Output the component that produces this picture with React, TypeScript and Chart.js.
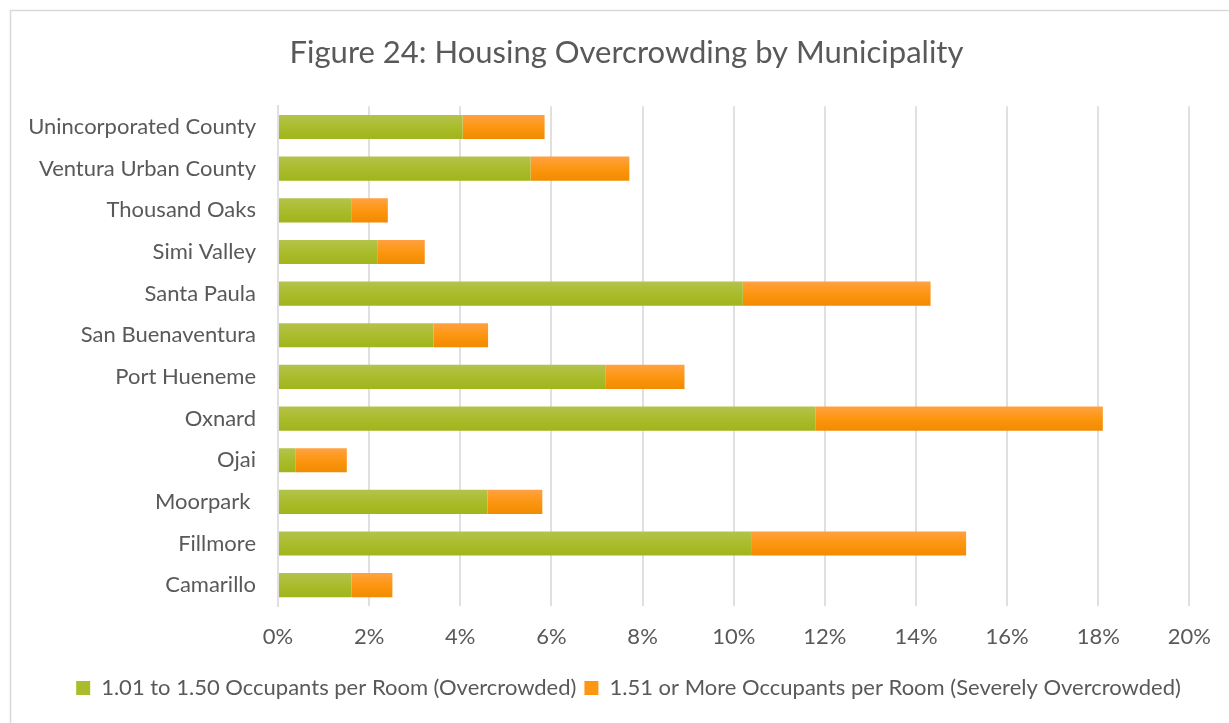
import React, { useEffect, useRef } from "react";
import { Chart, registerables } from "chart.js";

Chart.register(...registerables);

const categories = [
  "Unincorporated County",
  "Ventura Urban County",
  "Thousand Oaks",
  "Simi Valley",
  "Santa Paula",
  "San Buenaventura",
  "Port Hueneme",
  "Oxnard",
  "Ojai",
  "Moorpark ",
  "Fillmore",
  "Camarillo",
];

const overcrowded = [4.05, 5.54, 1.62, 2.19, 10.2, 3.41, 7.18, 11.8, 0.39, 4.6, 10.4, 1.61];
const severe = [1.8, 2.17, 0.79, 1.03, 4.12, 1.2, 1.74, 6.3, 1.12, 1.2, 4.7, 0.9];

const xTicks = [0, 2, 4, 6, 8, 10, 12, 14, 16, 18, 20];

const seriesNames = [
  "1.01 to 1.50 Occupants per Room (Overcrowded)",
  "1.51 or More Occupants per Room (Severely Overcrowded)",
];

const FONT = "Lato";
const TEXT = "#595959";

function barGradient(top: string, bottom: string, solid: string) {
  return (c: any) => {
    const chart = c.chart;
    const y = chart.scales?.y;
    if (!y || c.dataIndex === undefined || !chart.chartArea) return solid;
    const center = y.getPixelForValue(c.dataIndex);
    const half = 13;
    const g = chart.ctx.createLinearGradient(0, center - half, 0, center + half);
    g.addColorStop(0, top);
    g.addColorStop(0.5, solid);
    g.addColorStop(1, bottom);
    return g;
  };
}

const borderPlugin = {
  id: "outerBorder",
  beforeDraw(chart: any) {
    const ctx = chart.ctx;
    ctx.save();
    ctx.fillStyle = "#ffffff";
    ctx.fillRect(0, 0, chart.width, chart.height);
    ctx.strokeStyle = "#d9d9d9";
    ctx.lineWidth = 1.5;
    ctx.strokeRect(10.5, 10.5, chart.width + 20, chart.height + 20);
    ctx.restore();
  },
};

// Centre the title and legend on the full frame rather than the padded box.
const shiftPlugin = {
  id: "shiftBlocks",
  afterLayout(chart: any) {
    const t = chart.titleBlock;
    if (t) {
      t.left += 26;
      t.right += 26;
    }
    const l = chart.legend;
    if (l) {
      l.left += 28;
      l.right += 28;
    }
  },
};

export default function App() {
  const ref = useRef<HTMLCanvasElement>(null);

  useEffect(() => {
    document.body.style.margin = "0";
    const chart = new Chart(ref.current!, {
      type: "bar",
      data: {
        labels: categories,
        datasets: [
          {
            label: seriesNames[0],
            data: overcrowded,
            backgroundColor: barGradient("#b5c34e", "#a0b41a", "#aabc2c"),
            borderWidth: 0,
            categoryPercentage: 1,
            barPercentage: 0.58,
          },
          {
            label: seriesNames[1],
            data: severe,
            backgroundColor: barGradient("#ffa245", "#f08a00", "#fd9610"),
            borderWidth: 0,
            categoryPercentage: 1,
            barPercentage: 0.58,
          },
        ],
      },
      options: {
        indexAxis: "y",
        responsive: false,
        animation: false,
        layout: { padding: { left: 10, right: 38, top: 18, bottom: 14 } },
        plugins: {
          title: {
            display: true,
            text: "Figure 24: Housing Overcrowding by Municipality",
            color: TEXT,
            font: { family: FONT, size: 31, weight: "normal" },
            padding: { top: 16, bottom: 35 },
          },
          legend: {
            position: "bottom",
            labels: {
              color: TEXT,
              font: { family: FONT, size: 22 },
              boxWidth: 14,
              boxHeight: 14,
              padding: 8,
              generateLabels: () =>
                seriesNames.map((n, i) => ({
                  text: n,
                  fillStyle: i === 0 ? "#aabc2c" : "#fd9610",
                  strokeStyle: "transparent",
                  lineWidth: 0,
                  fontColor: TEXT,
                  datasetIndex: i,
                })),
            },
          },
          tooltip: { enabled: false },
        },
        scales: {
          x: {
            stacked: true,
            min: 0,
            max: 20,
            afterBuildTicks: (s: any) => {
              s.ticks = xTicks.map((v) => ({ value: v }));
            },
            ticks: {
              color: TEXT,
              font: { family: FONT, size: 22 },
              padding: 18,
              callback: (v: any) => v + "%",
            },
            grid: { color: "#e0e0e0", lineWidth: 2, drawTicks: false },
            border: { display: false },
            afterFit: (s: any) => {
              s.height = 63;
            },
          },
          y: {
            stacked: true,
            ticks: {
              color: TEXT,
              font: { family: FONT, size: 22 },
              padding: 22,
            },
            grid: { display: false, drawTicks: false },
            border: { display: true, color: "#e0e0e0", width: 2 },
            afterFit: (s: any) => {
              s.width = 268;
            },
          },
        },
      },
      plugins: [borderPlugin, shiftPlugin],
    });
    return () => chart.destroy();
  }, []);

  return <canvas ref={ref} width={1229} height={723} style={{ display: "block" }} />;
}
